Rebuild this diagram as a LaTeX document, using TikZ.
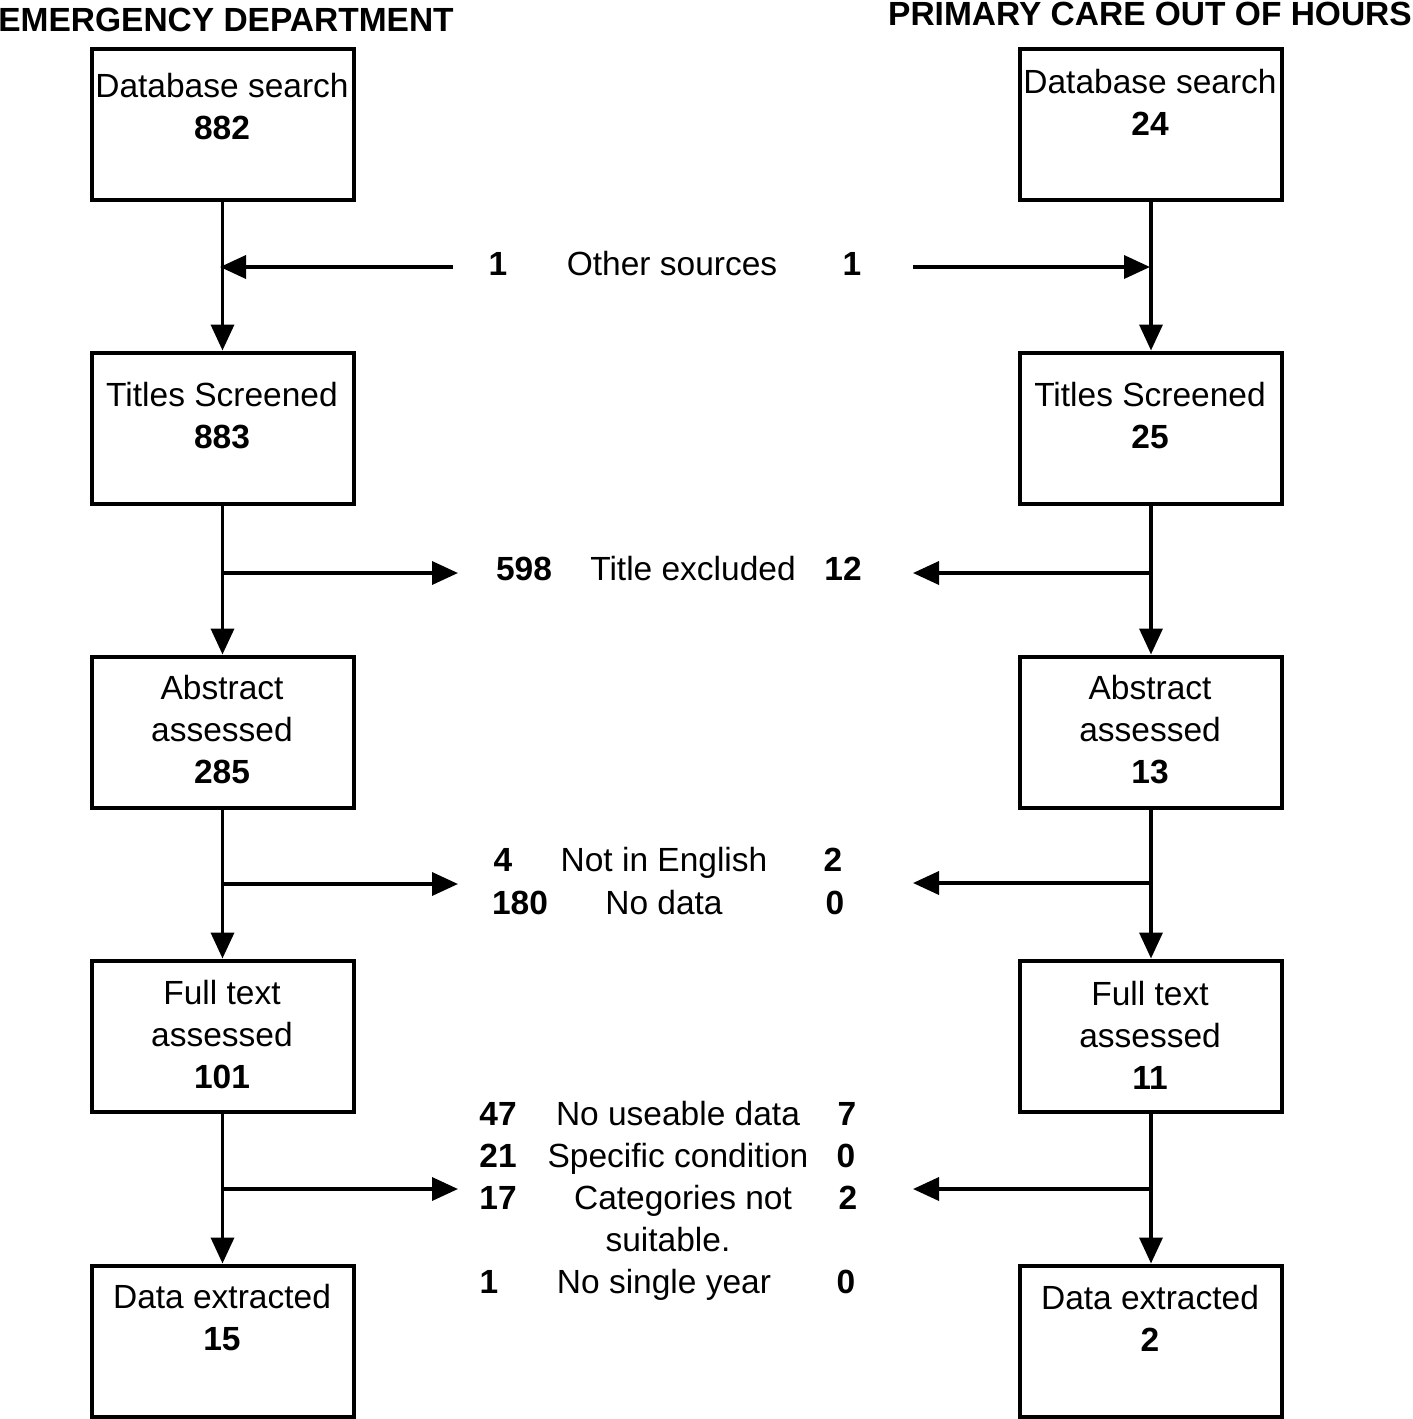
\documentclass[tikz,border=0pt]{standalone}
\usepackage{fontspec}
\setmainfont{Liberation Sans}
\usetikzlibrary{arrows.meta}
\usetikzlibrary{positioning}
\tikzstyle{box} = [draw,line width=2pt,minimum width=131pt,minimum height=75.5pt,inner sep=0pt]
\tikzstyle{txt} = [font=\fontsize{16.75}{21}\selectfont,align=center,inner sep=0pt]
\tikzstyle{lbl} = [font=\fontsize{16.75}{21}\selectfont,inner sep=0pt,anchor=base]
\tikzstyle{head} = [font=\fontsize{16.75}{21}\selectfont\bfseries,inner sep=0pt,anchor=base]
\tikzstyle{arrow} = [line width=1.8pt,-{Triangle[length=13pt,width=11.5pt]}]

\begin{document}
\begin{tikzpicture}[x=0.5pt,y=-0.5pt]
\useasboundingbox (0,0) rectangle (1413,1419);

\node[head] (edhead) at (226,31) {EMERGENCY DEPARTMENT};
\node[head] (pchead) at (1150,25) {PRIMARY CARE OUT OF HOURS};

% left column
\node[box] (ed1) at (222.5,124) {};
\node[box] (ed2) at (222.5,428) {};
\node[box] (ed3) at (222.5,732) {};
\node[box] (ed4) at (222.5,1036) {};
\node[box] (ed5) at (222.5,1341) {};
\node[txt] (ed1t) at (222,107) {Database search\\\textbf{882}};
\node[txt] (ed2t) at (222,416) {Titles Screened\\\textbf{883}};
\node[txt] (ed3t) at (222,730) {Abstract\\assessed\\\textbf{285}};
\node[txt] (ed4t) at (222,1035) {Full text\\assessed\\\textbf{101}};
\node[txt] (ed5t) at (222,1318) {Data extracted\\\textbf{15}};

% right column
\node[box] (pc1) at (1151,124) {};
\node[box] (pc2) at (1151,428) {};
\node[box] (pc3) at (1151,732) {};
\node[box] (pc4) at (1151,1036) {};
\node[box] (pc5) at (1151,1341) {};
\node[txt] (pc1t) at (1150,102) {Database search\\\textbf{24}};
\node[txt] (pc2t) at (1150,416) {Titles Screened\\\textbf{25}};
\node[txt] (pc3t) at (1150,730) {Abstract\\assessed\\\textbf{13}};
\node[txt] (pc4t) at (1150,1035) {Full text\\assessed\\\textbf{11}};
\node[txt] (pc5t) at (1150,1318) {Data extracted\\\textbf{2}};

\draw [arrow] (ed1) -- (ed2);
\draw [arrow] (ed2) -- (ed3);
\draw [arrow] (ed3) -- (ed4);
\draw [arrow] (ed4) -- (ed5);
\draw [arrow] (pc1) -- (pc2);
\draw [arrow] (pc2) -- (pc3);
\draw [arrow] (pc3) -- (pc4);
\draw [arrow] (pc4) -- (pc5);

% middle labels
\node[lbl] (osl) at (498,275) {\textbf{1}};
\node[lbl] (os) at (672,275) {Other sources};
\node[lbl] (osr) at (852,275) {\textbf{1}};

\node[lbl] (tel) at (524,580) {\textbf{598}};
\node[lbl] (te) at (693,580) {Title excluded};
\node[lbl] (ter) at (843,580) {\textbf{12}};

\node[lbl] (nel) at (503,871) {\textbf{4}};
\node[lbl] (ne) at (664,871) {Not in English};
\node[lbl] (ner) at (833,871) {\textbf{2}};
\node[lbl] (ndl) at (520,914) {\textbf{180}};
\node[lbl] (nd) at (664,914) {No data};
\node[lbl] (ndr) at (835,914) {\textbf{0}};

\node[lbl] (nul) at (498,1125) {\textbf{47}};
\node[lbl] (nu) at (678,1125) {No useable data};
\node[lbl] (nur) at (847,1125) {\textbf{7}};
\node[lbl] (scl) at (498,1167) {\textbf{21}};
\node[lbl] (sc) at (678,1167) {Specific condition};
\node[lbl] (scr) at (846,1167) {\textbf{0}};
\node[lbl] (cnl) at (498,1209) {\textbf{17}};
\node[lbl] (cn) at (683,1209) {Categories not};
\node[lbl] (cnr) at (848,1209) {\textbf{2}};
\node[lbl] (cn2) at (668,1251) {suitable.};
\node[lbl] (syl) at (489,1293) {\textbf{1}};
\node[lbl] (sy) at (664,1293) {No single year};
\node[lbl] (syr) at (846,1293) {\textbf{0}};

% side arrows
\coordinate (srcL) at (453,267);
\coordinate (joinL) at (220,267);
\coordinate (srcR) at (913,267);
\coordinate (joinR) at (1150,267);
\draw [arrow] (srcL) -- (joinL);
\draw [arrow] (srcR) -- (joinR);

\coordinate (splitL2) at (222,573);
\coordinate (exL2) at (458,573);
\coordinate (splitR2) at (1150,573);
\coordinate (exR2) at (913,573);
\draw [arrow] (splitL2) -- (exL2);
\draw [arrow] (splitR2) -- (exR2);

\coordinate (splitL3) at (222,884);
\coordinate (exL3) at (458,884);
\coordinate (splitR3) at (1150,883);
\coordinate (exR3) at (913,883);
\draw [arrow] (splitL3) -- (exL3);
\draw [arrow] (splitR3) -- (exR3);

\coordinate (splitL4) at (222,1189);
\coordinate (exL4) at (458,1189);
\coordinate (splitR4) at (1150,1189);
\coordinate (exR4) at (913,1189);
\draw [arrow] (splitL4) -- (exL4);
\draw [arrow] (splitR4) -- (exR4);
\end{tikzpicture}
\end{document}
